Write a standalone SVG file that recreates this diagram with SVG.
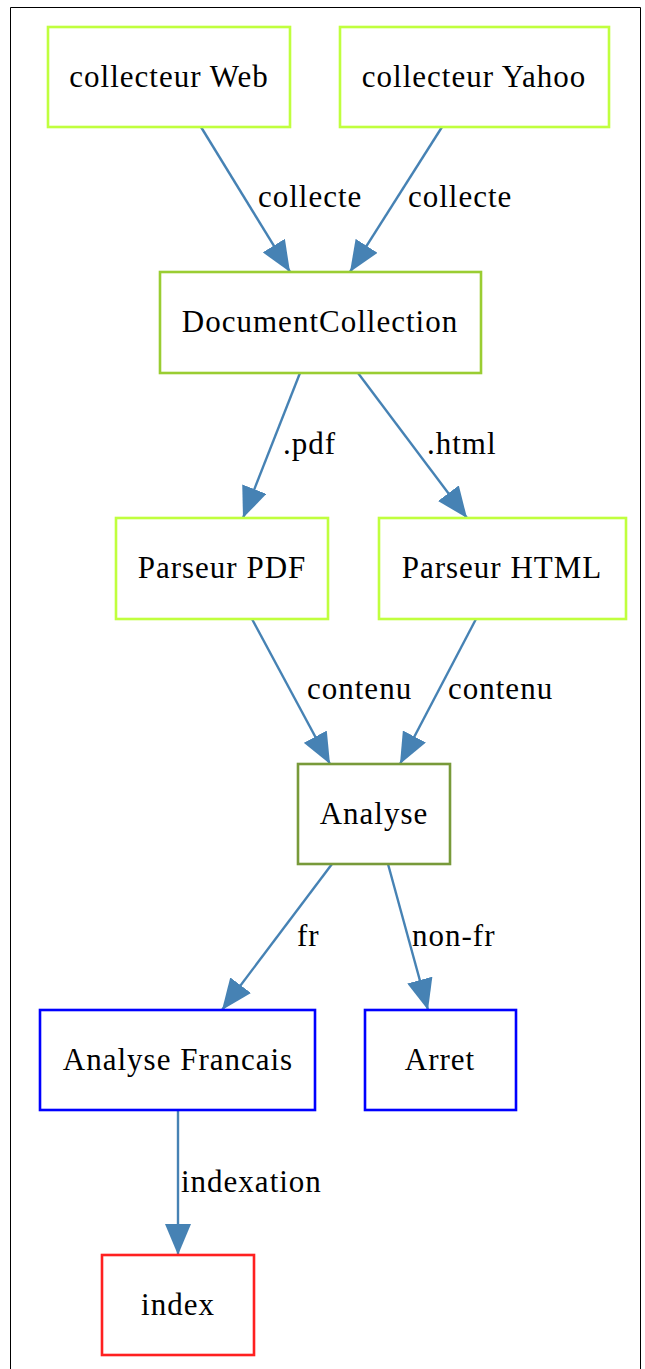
<svg xmlns="http://www.w3.org/2000/svg" width="645" height="1369" viewBox="0 0 645 1369">
<style>
text{font-family:"Liberation Serif","Times New Roman",serif;font-size:31px;fill:#000;letter-spacing:1px}
.n text{text-anchor:middle}
.n rect{fill:#fff;stroke-width:2.6}
.g1 rect{stroke:#c0ff3e}
.g2 rect{stroke:#9acd32}
.g3 rect{stroke:#789a3a}
.b rect{stroke:#0000ff}
.r rect{stroke:#ff2020}
#edges line{stroke:#4682b4;stroke-width:2.4;fill:none}
</style>
<defs>
<marker id="ah" markerUnits="userSpaceOnUse" markerWidth="31" markerHeight="26" refX="31" refY="13" orient="auto" viewBox="0 0 31 26">
<path d="M0,0 L31,13 L0,26 Z" fill="#4682b4"/>
</marker>
</defs>
<rect x="0" y="0" width="645" height="1369" fill="#fff"/>
<path d="M10.5,1369 V7.5 H640.5 V1369" fill="none" stroke="#000" stroke-width="1"/>
<g id="edges">
<line x1="201" y1="127" x2="290" y2="272" marker-end="url(#ah)"/>
<line x1="442" y1="127" x2="350" y2="272" marker-end="url(#ah)"/>
<line x1="300" y1="373" x2="243" y2="518" marker-end="url(#ah)"/>
<line x1="358" y1="373" x2="467" y2="518" marker-end="url(#ah)"/>
<line x1="252" y1="619" x2="330" y2="764" marker-end="url(#ah)"/>
<line x1="476" y1="619" x2="400" y2="764" marker-end="url(#ah)"/>
<line x1="332" y1="864" x2="222" y2="1010" marker-end="url(#ah)"/>
<line x1="388" y1="864" x2="428" y2="1010" marker-end="url(#ah)"/>
<line x1="178" y1="1110" x2="178" y2="1255" marker-end="url(#ah)"/>
<text x="258" y="207">collecte</text>
<text x="408" y="207">collecte</text>
<text x="283" y="454">.pdf</text>
<text x="427" y="454">.html</text>
<text x="307" y="699">contenu</text>
<text x="448" y="699">contenu</text>
<text x="297" y="946">fr</text>
<text x="412" y="946">non-fr</text>
<text x="181" y="1192">indexation</text>
</g>
<g id="collecteurWeb" class="n g1"><rect x="48" y="27" width="242" height="100"/><text x="169" y="87">collecteur Web</text></g>
<g id="collecteurYahoo" class="n g1"><rect x="340" y="27" width="269" height="100"/><text x="474" y="87">collecteur Yahoo</text></g>
<g id="DocumentCollection" class="n g2"><rect x="160" y="272" width="321" height="101"/><text x="320" y="332">DocumentCollection</text></g>
<g id="ParseurPDF" class="n g1"><rect x="116" y="518" width="212" height="101"/><text x="222" y="578">Parseur PDF</text></g>
<g id="ParseurHTML" class="n g1"><rect x="379" y="518" width="247" height="101"/><text x="502" y="578">Parseur HTML</text></g>
<g id="Analyse" class="n g3"><rect x="298" y="764" width="152" height="100"/><text x="374" y="824">Analyse</text></g>
<g id="AnalyseFrancais" class="n b"><rect x="40" y="1010" width="275" height="100"/><text x="178" y="1070">Analyse Francais</text></g>
<g id="Arret" class="n b"><rect x="365" y="1010" width="151" height="100"/><text x="440" y="1070">Arret</text></g>
<g id="index" class="n r"><rect x="102" y="1255" width="152" height="100"/><text x="178" y="1315">index</text></g>
</svg>
